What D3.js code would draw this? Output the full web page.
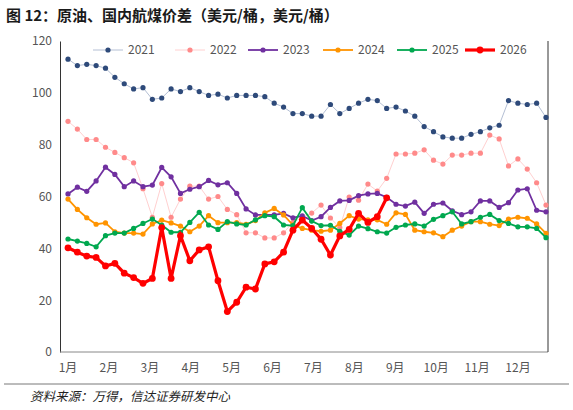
<!DOCTYPE html>
<html><head><meta charset="utf-8">
<script src="https://cdn.jsdelivr.net/npm/d3@7"></script>
<style>body{margin:0;background:#fff;font-family:"Noto Sans CJK SC",sans-serif}</style>
</head><body><svg id="c" width="573" height="410"></svg>
<script>
var months = ['1月','2月','3月','4月','5月','6月','7月','8月','9月','10月','11月','12月']
var yTicks = [0,20,40,60,80,100,120]
var s2021 = [113,110.5,111,110.5,109.5,106,103.5,101.5,102,97.5,98,101.5,100.5,102,100.5,99,99.5,98,99,99,99,98.5,96,94.5,92,92,91,91,95.5,92,94,96,97.5,97,94,94.5,93,91,87,85,83,82.5,82.5,84,85,86.5,87.5,97,96,95.5,96,90.5]
var s2022 = [89,86,82,82,79,77,75,73,63,52,65,52,59,64,64,59,60,55,53,46,46,44,44,46,50,52,53.6,56.7,51.7,48,59.8,58.6,64.8,62.1,67,76.4,76.4,76.7,78,74,72.5,76,76,76.7,76.7,83.7,82.2,71.8,74.5,70.6,65.3,56.7]
var s2023 = [61,63.6,62,66,71.3,68.5,63.8,66,63.8,64.4,71.2,67.6,61.2,62.8,63.8,66.2,64.5,65.3,61.2,55.2,52.9,52.9,52.9,53.5,51.8,52.5,50.7,52.2,55.8,58.3,58.5,60.3,61,61.2,59.7,57,56.3,57.8,53.5,57,57.5,54.5,53,54.1,58.3,58.3,55.8,57.6,62.5,63,54.7,54.1]
var s2024 = [59,55,51.8,49.3,49.8,46.4,45.9,45.9,45.5,49.4,50.9,49.8,48.6,46.4,48.6,52.6,49.9,49.9,49.9,49.3,50.7,53.7,55.4,52.9,49,47.7,47,46.6,47,49.6,52.6,51.3,51,51,49.3,53.7,53.1,47,46.4,46,44.5,47,48.6,50.3,50.3,49.3,48.8,51.3,52,51.6,49.4,45.8]
var s2025 = [43.6,42.8,41.9,40.6,44.9,45.9,45.9,47.7,49.6,51.3,49,46.2,46.2,50,53.9,49,47.3,50.3,49.4,49,51,52.6,52.2,49,48.8,55.7,50.5,48.8,48.9,46.6,45.1,48.6,47.6,46.4,45.9,48.1,49,49.4,48.6,51.2,52.6,54.1,49.4,50.3,52,53.1,50.7,49.6,48.3,48.3,47.7,44.1]
var s2026 = [40.2,38.5,37,36.5,33.2,34.2,30.4,28.7,26.5,28.4,48,28.4,44.9,35.2,39.4,40.6,27.5,15.6,19.2,25,24.3,34,34.8,38.5,47,50.9,47.7,43.5,37.4,44.8,47.3,53.5,50,52.2,59.5]
var seriesNames = ['2021','2022','2023','2024','2025','2026']

var styles = {
  '2021': {c:'#2e4a7a', line:'#b4bfd4', w:1, r:2.6},
  '2022': {c:'#ff8a8a', line:'#ffd0d0', w:1, r:2.6},
  '2023': {c:'#7030a0', line:'#7030a0', w:1.8, r:2.6},
  '2024': {c:'#ff9400', line:'#ff9400', w:1.8, r:2.6},
  '2025': {c:'#00a84f', line:'#00a84f', w:1.8, r:2.6},
  '2026': {c:'#ff0000', line:'#ff0000', w:3.2, r:3.4}
}
var data = {'2021':s2021,'2022':s2022,'2023':s2023,'2024':s2024,'2025':s2025,'2026':s2026}

var svg = d3.select('#c')
var padL = 60, padR = 548, padT = 41, padB = 352
var x = d3.scaleLinear().domain([0,51]).range([68,546])
var xm = d3.scaleLinear().domain([0,11]).range([68,518])
var y = d3.scaleLinear().domain([0,120]).range([padB,padT])

svg.append('text').attr('x',6).attr('y',21).attr('font-size',15).attr('font-weight','bold').attr('fill','#1a1a1a')
  .text('图 12：原油、国内航煤价差（美元/桶，美元/桶）')

var yAxis = svg.append('g').attr('transform','translate('+padL+',0)')
  .call(d3.axisLeft(y).tickValues(yTicks).tickSize(0).tickPadding(8))
yAxis.select('.domain').attr('stroke','#333')
yAxis.selectAll('text').attr('font-size',12).attr('fill','#555').attr('font-family','"Noto Sans CJK SC",sans-serif')
svg.append('line').attr('x1',padL).attr('x2',padR).attr('y1',padB).attr('y2',padB).attr('stroke','#888')
svg.append('line').attr('x1',padR).attr('x2',padR).attr('y1',padT).attr('y2',padB).attr('stroke','#333')

svg.selectAll('.mlab').data(months).enter().append('text')
  .attr('x',function(d,i){return xm(i)}).attr('y',padB+20).attr('text-anchor','middle')
  .attr('font-size',12).attr('fill','#555').text(function(d){return d})

var line = d3.line().x(function(d,i){return x(i)}).y(function(d){return y(d)})
seriesNames.forEach(function(n){
  var st = styles[n]
  var g = svg.append('g')
  g.append('path').datum(data[n]).attr('d',line).attr('fill','none').attr('stroke',st.line).attr('stroke-width',st.w)
  g.selectAll('circle').data(data[n]).enter().append('circle')
    .attr('cx',function(d,i){return x(i)}).attr('cy',function(d){return y(d)}).attr('r',st.r).attr('fill',st.c)
})

// legend
var lx = [108,190,263,338,412,480]
seriesNames.forEach(function(n,i){
  var st = styles[n]
  var g = svg.append('g').attr('transform','translate('+lx[i]+',50)')
  g.append('line').attr('x1',-15).attr('x2',15).attr('stroke',st.line).attr('stroke-width',st.w)
  g.append('circle').attr('r',st.r).attr('fill',st.c)
  g.append('text').attr('x',20).attr('y',4).attr('font-size',12).attr('fill','#555').text(n)
})

svg.append('line').attr('x1',4).attr('x2',569).attr('y1',384).attr('y2',384).attr('stroke','#555').attr('stroke-width',0.8)
svg.append('text').attr('x',30).attr('y',401).attr('font-size',12.5).attr('font-style','italic').attr('fill','#222')
  .text('资料来源：万得，信达证券研发中心')
</script></body></html>
